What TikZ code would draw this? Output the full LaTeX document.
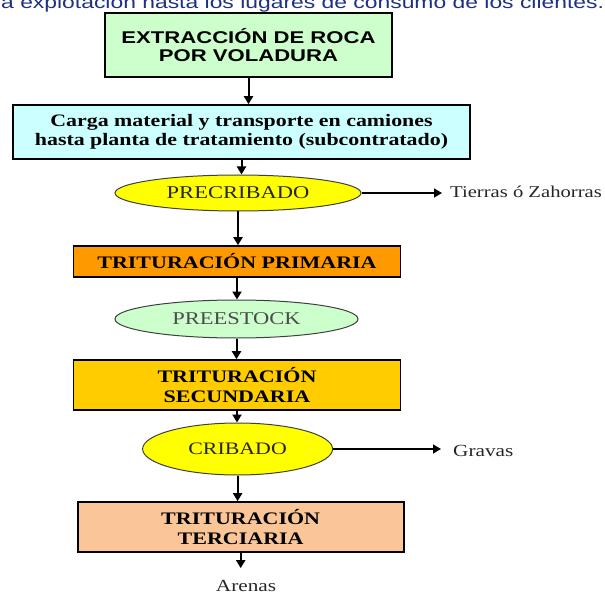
\documentclass[tikz,border=0pt]{standalone}
\usepackage{fontspec}
\setmainfont{Liberation Serif}[FakeStretch=1.25]
\newfontfamily\anchasans{Liberation Sans}[FakeStretch=1.3]
\usepackage{xcolor}
\usetikzlibrary{shapes.geometric,arrows.meta}
\definecolor{verdeclaro}{RGB}{204,255,204}
\definecolor{cian}{RGB}{204,255,255}
\definecolor{amarillo}{RGB}{255,255,0}
\definecolor{naranja}{RGB}{255,153,0}
\definecolor{oro}{RGB}{255,204,0}
\definecolor{melocoton}{RGB}{250,198,152}
\definecolor{azultexto}{RGB}{30,50,130}
\tikzset{caja/.style={rectangle,draw=black,line width=1.6pt,inner sep=0pt,align=center,font=\bfseries\fontsize{17.6}{20}\selectfont},
    elip/.style={ellipse,draw=black!75,line width=1pt,inner sep=0pt,text=black!85,font=\fontsize{18}{20}\selectfont},
    flujo/.style={-{Triangle[length=8pt,width=9pt]},line width=2pt},
    salida/.style={inner sep=0pt,text=black!85,font=\fontsize{17}{20}\selectfont}}

\begin{document}
\begin{tikzpicture}[x=1pt,y=-1pt]
    \clip (0,0) rectangle (605,596);
    \node[anchor=base west,inner sep=0pt,text=azultexto,font=\anchasans\fontsize{17.6}{20}\selectfont] (titulo)at (1,9) {a explotación hasta los lugares de consumo de los clientes.};

    \node[caja,fill=verdeclaro,minimum width=287,minimum height=64,font=\anchasans\bfseries\fontsize{17}{17.5}\selectfont] (ext)at (248.5,45) {EXTRACCIÓN DE ROCA\\POR VOLADURA};
    \node[caja,fill=cian,minimum width=457,minimum height=54,font=\bfseries\fontsize{17.5}{19.5}\selectfont] (carga)at (241.5,132) {Carga material y transporte en camiones\\hasta planta de tratamiento (subcontratado)};
    \node[elip,fill=amarillo,minimum width=246,minimum height=36] (precrib)at (238,193) {PRECRIBADO};
    \node[caja,fill=naranja,minimum width=327,minimum height=31] (prim)at (237,261.5) {TRITURACIÓN PRIMARIA};
    \node[elip,fill=verdeclaro,minimum width=243,minimum height=38,text=black!70] (prees)at (236.5,319) {PREESTOCK};
    \node[caja,fill=oro,minimum width=327,minimum height=50] (sec)at (237,385) {TRITURACIÓN\\SECUNDARIA};
    \node[elip,fill=amarillo,minimum width=190,minimum height=52,font=\fontsize{17.5}{20}\selectfont] (crib)at (237.6,449) {CRIBADO};
    \node[caja,fill=melocoton,minimum width=326,minimum height=50] (terc)at (240.7,527) {TRITURACIÓN\\TERCIARIA};

    \node[salida,anchor=west,font=\fontsize{16.5}{20}\selectfont] (tierras)at (450,192) {Tierras ó Zahorras};
    \node[salida,anchor=west] (gravas)at (453,451) {Gravas};
    \node[salida] (arenas)at (246,586) {Arenas};

    \draw [flujo] (ext.south) to (ext.south |- carga.north);
    \draw [flujo] (carga.south) to (carga.south |- precrib.north);
    \draw [flujo] (precrib.south) to (precrib.south |- prim.north);
    \draw [flujo] (prim.south) to (prim.south |- prees.north);
    \draw [flujo] (prees.south) to (prees.south |- sec.north);
    \draw [flujo] (sec.south) to (sec.south |- crib.north);
    \draw [flujo] (crib.south) to (crib.south |- terc.north);
    \draw [flujo,shorten >=12pt] (terc.south) to (terc.south |- arenas.north);
    \draw [flujo,line width=1.5pt,shorten >=8pt] (precrib.east) to (precrib.east -| tierras.west);
    \draw [flujo,line width=1.5pt,shorten >=12pt] (crib.east) to (crib.east -| gravas.west);
\end{tikzpicture}
\end{document}
